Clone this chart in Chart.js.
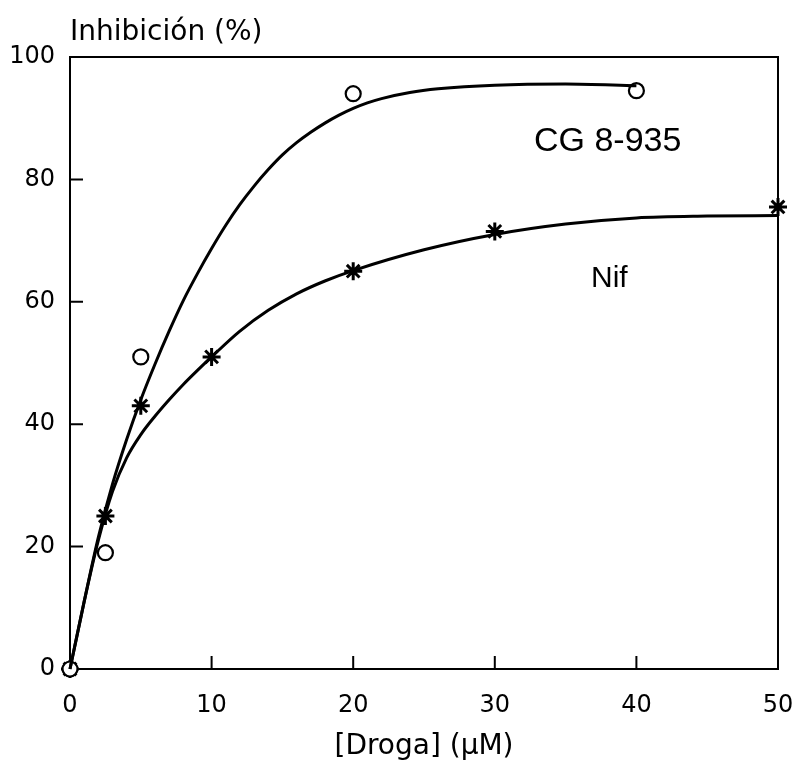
<!DOCTYPE html>
<html>
<head>
<meta charset="utf-8">
<script src="https://cdn.jsdelivr.net/npm/chart.js@4.4.0/dist/chart.umd.min.js"></script>
<style>
  html, body { margin:0; padding:0; background:#fff; }
  #wrap { width:797px; height:778px; }
</style>
</head>
<body>
<div id="wrap"><canvas id="chart" width="797" height="778"></canvas></div>
<script>
// ================= DATA =================
const xTicks = [0, 10, 20, 30, 40, 50];
const yTicks = [0, 20, 40, 60, 80, 100];

// measured points
const cgX  = [0, 2.5, 5, 20, 40];
const cgY  = [0, 19, 51, 94, 94.5];
const nifX = [0, 2.5, 5, 10, 20, 30, 50];
const nifY = [0, 25, 43, 51, 65, 71.5, 75.5];

// fitted curves
const cgFitX  = [0, 1, 2, 3, 4, 5, 6, 7, 8, 9, 10, 11, 12, 13, 14, 15, 16, 17, 18, 19, 20, 21, 22, 24, 26, 30, 35, 40];
const cgFitY  = [0, 11, 21.5, 30.2, 37.5, 44, 49.8, 55.2, 60.2, 64.6, 68.7, 72.5, 75.9, 78.9, 81.6, 84, 86, 87.7, 89.2, 90.5, 91.6, 92.5, 93.2, 94.2, 94.8, 95.4, 95.6, 95.3];
const nifFitX = [0, 1, 2, 3, 4, 5, 6, 7, 8, 9, 10, 12, 14, 16, 18, 20, 25, 30, 35, 40, 45, 50];
const nifFitY = [0, 11, 21, 29, 34.5, 38.3, 41.3, 44, 46.5, 48.8, 51, 55.2, 58.6, 61.3, 63.4, 65.1, 68.5, 71, 72.7, 73.7, 74, 74.1];

const zip = (xs, ys) => xs.map((x, i) => ({x, y: ys[i]}));

// ================= PLUGIN: frame, inward ticks, texts =================
const frame = {
    id: 'frame',
    beforeDatasetsDraw(chart){
        const {ctx, chartArea: a, scales: {x, y}} = chart;
        ctx.save();
        ctx.strokeStyle = '#000';
        ctx.lineWidth = 2;
        ctx.strokeRect(a.left, a.top, a.right - a.left, a.bottom - a.top);
        ctx.beginPath();
        xTicks.slice(1, -1).forEach(v => {
            const px = x.getPixelForValue(v);
            ctx.moveTo(px, a.bottom);
            ctx.lineTo(px, a.bottom - 13);
        });
        yTicks.slice(1, -1).forEach(v => {
            const py = y.getPixelForValue(v);
            ctx.moveTo(a.left, py);
            ctx.lineTo(a.left + 13, py);
        });
        ctx.stroke();
        ctx.restore();
    },
    afterDraw(chart){
        const {ctx, chartArea: a} = chart;
        ctx.save();
        ctx.fillStyle = '#000';
        ctx.textBaseline = 'alphabetic';
        ctx.font = '28px "DejaVu Sans"';
        ctx.textAlign = 'left';
        ctx.fillText('Inhibición (%)', a.left, 40);
        ctx.textAlign = 'center';
        ctx.fillText('[Droga] (\u00B5M)', (a.left + a.right) / 2, 754);
        ctx.font = '34px "Liberation Sans"';
        ctx.textAlign = 'left';
        ctx.fillText('CG 8-935', 534, 151);
        ctx.font = '30px "Liberation Sans"';
        ctx.fillText('Nif', 591, 287);
        ctx.restore();
    }
};

// ================= CHART =================
new Chart(document.getElementById('chart').getContext('2d'), {
    type: 'scatter',
    data: {
        datasets: [
            {label:'CG fit', type:'line', data: zip(cgFitX, cgFitY), borderColor:'#000', borderWidth:3,
             pointRadius:0, cubicInterpolationMode:'monotone', fill:false, clip:false},
            {label:'Nif fit', type:'line', data: zip(nifFitX, nifFitY), borderColor:'#000', borderWidth:3,
             pointRadius:0, cubicInterpolationMode:'monotone', fill:false, clip:false},
            {label:'CG 8-935', data: zip(cgX, cgY), pointStyle:'circle', pointRadius:7.5,
             borderColor:'#000', backgroundColor:'#fff', borderWidth:2.2, pointBorderWidth:2.2, clip:false},
            {label:'Nif', data: zip(nifX, nifY), pointStyle:'star', pointRadius:9,
             borderColor:'#000', backgroundColor:'#000', borderWidth:3, pointBorderWidth:3, clip:false}
        ]
    },
    options: {
        responsive:false,
        animation:false,
        layout:{padding:{top:57, right:19, left:0, bottom:0}},
        plugins:{legend:{display:false}, tooltip:{enabled:false}},
        scales:{
            x:{type:'linear', min:0, max:50,
               afterFit(s){ s.height = 109; s.paddingLeft = 0; s.paddingRight = 0; },
               afterBuildTicks(s){ s.ticks = xTicks.map(v => ({value:v})); },
               grid:{display:false, drawTicks:false}, border:{display:false},
               ticks:{color:'#000', padding:22, font:{family:'DejaVu Sans', size:24}}},
            y:{type:'linear', min:0, max:100,
               afterFit(s){ s.width = 70; s.paddingTop = 0; s.paddingBottom = 0; },
               afterBuildTicks(s){ s.ticks = yTicks.map(v => ({value:v})); },
               grid:{display:false, drawTicks:false}, border:{display:false},
               ticks:{color:'#000', padding:15, font:{family:'DejaVu Sans', size:24}}}
        }
    },
    plugins:[frame]
});
</script>
</body>
</html>
